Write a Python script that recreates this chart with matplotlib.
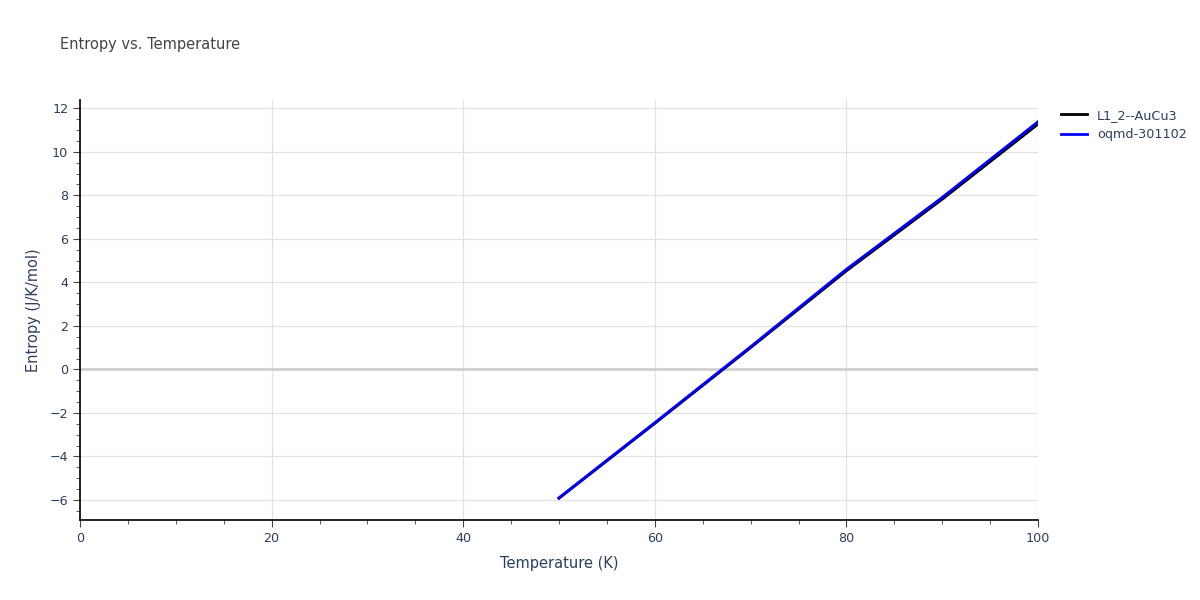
import matplotlib
matplotlib.use("Agg")
from matplotlib import pyplot as plt
from matplotlib.ticker import MultipleLocator

temperature = [50, 60, 70, 80, 90, 100]
entropy_aucu3 = [-5.92, -2.48, 1.00, 4.53, 7.82, 11.27]
entropy_oqmd = [-5.90, -2.45, 1.04, 4.60, 7.90, 11.38]
series_names = ["L1_2--AuCu3", "oqmd-301102"]

text_col = "#2a3f5f"
fig = plt.figure(figsize=(12, 6), dpi=100)
ax = fig.add_axes([80 / 1200, 80 / 600, 958 / 1200, 420 / 600])

ax.plot(temperature, entropy_aucu3, color="black", lw=2, label=series_names[0])
ax.plot(temperature, entropy_oqmd, color="#0000ff", lw=2, label=series_names[1])

ax.set_xlim(0, 100)
ax.set_ylim(-6.92, 12.38)
ax.xaxis.set_major_locator(MultipleLocator(20))
ax.xaxis.set_minor_locator(MultipleLocator(5))
ax.yaxis.set_major_locator(MultipleLocator(2))
ax.yaxis.set_minor_locator(MultipleLocator(0.5))
ax.grid(True, which="major", color="#e2e2e2", lw=0.9)
ax.axhline(0, color="#d0d0d0", lw=2, zorder=1)
ax.set_axisbelow(True)

for s in ["top", "right"]:
    ax.spines[s].set_visible(False)
for s in ["left", "bottom"]:
    ax.spines[s].set_color("black")
    ax.spines[s].set_linewidth(1.2)
ax.tick_params(which="major", length=5, color="#444444", labelsize=9.2, labelcolor=text_col)
ax.tick_params(which="minor", length=3, color="#444444")

ax.set_xlabel("Temperature (K)", fontsize=10.5, color=text_col, labelpad=8)
ax.set_ylabel("Entropy (J/K/mol)", fontsize=10.5, color=text_col, labelpad=6)
fig.text(60 / 1200, 1 - 45 / 600, "Entropy vs. Temperature", fontsize=10.5,
         color="#444444", va="center")

ax.legend(loc="upper left", bbox_to_anchor=(1.015, 1.0), frameon=False,
          fontsize=9.2, labelcolor=text_col, handlelength=2.0, borderaxespad=0.3)

fig.savefig("out.png", dpi=100)
